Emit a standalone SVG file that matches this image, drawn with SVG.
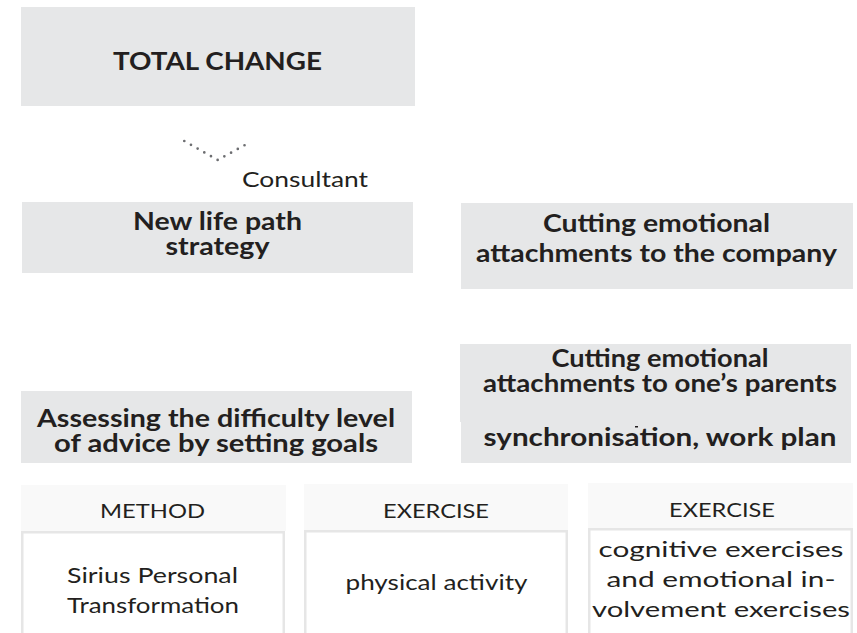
<svg xmlns="http://www.w3.org/2000/svg" width="857" height="633" viewBox="0 0 857 633">
  <style>
    .box { fill: #e6e7e8; }
    .title { font-family: Lato, "Liberation Sans", sans-serif; font-weight: 700; fill: #231f20; text-anchor: middle; }
    .plain { font-family: Lato, "Liberation Sans", sans-serif; font-weight: 400; fill: #231f20; text-anchor: middle; }
    .head { fill: #f9f9f9; }
    .cell { fill: #ffffff; stroke: #e6e6e6; stroke-width: 2.5; }
    .dots { fill: none; stroke: #6d6e71; stroke-width: 2.7; stroke-linecap: round; stroke-dasharray: 0 7.67; }
  </style>

  <!-- top-level goal -->
  <g id="total-change">
    <rect class="box" x="21" y="7" width="394" height="99"/>
    <text class="title" x="217.5" y="70" font-size="25" textLength="209" lengthAdjust="spacingAndGlyphs">TOTAL CHANGE</text>
  </g>

  <!-- dotted chevron with its label -->
  <g id="connectors">
    <path class="dots" d="M184.3,141 L217.7,160 L251,141.7"/>
    <text class="plain" x="305" y="187" font-size="21" textLength="126" lengthAdjust="spacingAndGlyphs">Consultant</text>
  </g>

  <g id="life-path">
    <rect class="box" x="22" y="202" width="391" height="71"/>
    <text class="title" x="217.5" y="230" font-size="24" textLength="169" lengthAdjust="spacingAndGlyphs">New life path</text>
    <text class="title" x="217.5" y="255" font-size="24" textLength="104" lengthAdjust="spacingAndGlyphs">strategy</text>
  </g>

  <g id="company">
    <rect class="box" x="461" y="203" width="392" height="86"/>
    <text class="title" x="656.5" y="232" font-size="25" textLength="227" lengthAdjust="spacingAndGlyphs">Cutting emotional</text>
    <text class="title" x="656.5" y="262" font-size="25" textLength="361" lengthAdjust="spacingAndGlyphs">attachments to the company</text>
  </g>

  <g id="assessing">
    <rect class="box" x="21" y="391" width="391" height="72"/>
    <text class="title" x="216" y="427" font-size="24" textLength="358" lengthAdjust="spacingAndGlyphs">Assessing the difficulty level</text>
    <text class="title" x="216" y="452" font-size="24" textLength="324" lengthAdjust="spacingAndGlyphs">of advice by setting goals</text>
  </g>

  <g id="parents">
    <rect class="box" x="460" y="344" width="391" height="78"/>
    <rect class="box" x="461" y="422" width="390" height="41"/>
    <text class="title" x="660" y="367" font-size="24" textLength="217" lengthAdjust="spacingAndGlyphs">Cutting emotional</text>
    <text class="title" x="660" y="392" font-size="24" textLength="354" lengthAdjust="spacingAndGlyphs">attachments to one’s parents</text>
    <rect x="635" y="426" width="3" height="1.5" fill="#231f20"/>
    <text class="title" x="660" y="446" font-size="24" textLength="353" lengthAdjust="spacingAndGlyphs">synchronisation, work plan</text>
  </g>

  <!-- bottom table: three columns, each a header band over an outlined cell -->
  <g id="col-method">
    <rect class="head" x="21" y="485" width="265" height="46"/>
    <rect class="cell" x="22.25" y="532.25" width="261.5" height="110"/>
    <text class="plain" x="152.5" y="518" font-size="20" textLength="105" lengthAdjust="spacingAndGlyphs">METHOD</text>
    <text class="plain" x="152.5" y="583" font-size="21.5" textLength="171" lengthAdjust="spacingAndGlyphs">Sirius Personal</text>
    <text class="plain" x="153" y="613" font-size="21.5" textLength="172" lengthAdjust="spacingAndGlyphs">Transformation</text>
  </g>

  <g id="col-physical">
    <rect class="head" x="304" y="484" width="264" height="46"/>
    <rect class="cell" x="305.25" y="531.25" width="261.5" height="110"/>
    <text class="plain" x="436" y="518" font-size="20" textLength="106" lengthAdjust="spacingAndGlyphs">EXERCISE</text>
    <text class="plain" x="436.5" y="590" font-size="21.5" textLength="182" lengthAdjust="spacingAndGlyphs">physical activity</text>
  </g>

  <g id="col-cognitive">
    <rect class="head" x="588" y="483" width="265" height="45"/>
    <rect class="cell" x="589.25" y="529.25" width="262.5" height="112"/>
    <text class="plain" x="722" y="517" font-size="20" textLength="106" lengthAdjust="spacingAndGlyphs">EXERCISE</text>
    <text class="plain" x="721" y="557" font-size="21.5" textLength="245" lengthAdjust="spacingAndGlyphs">cognitive exercises</text>
    <text class="plain" x="721" y="587" font-size="21.5" textLength="229" lengthAdjust="spacingAndGlyphs">and emotional in-</text>
    <text class="plain" x="721" y="617" font-size="21.5" textLength="258" lengthAdjust="spacingAndGlyphs">volvement exercises</text>
  </g>
</svg>
